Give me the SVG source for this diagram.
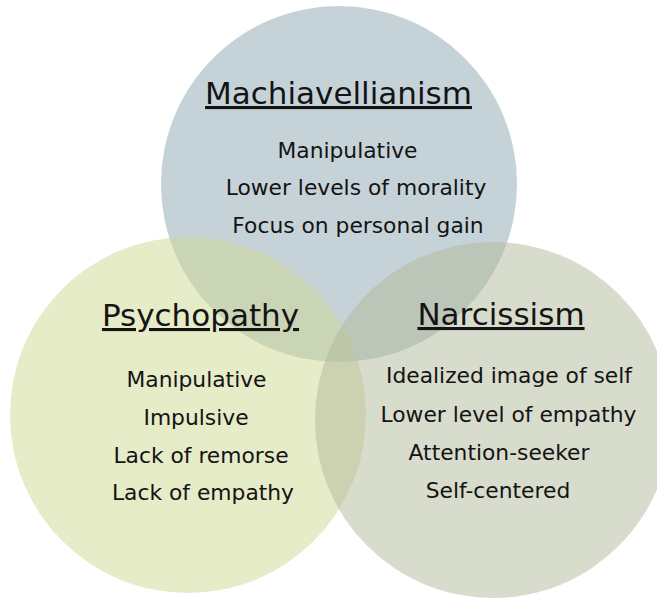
<svg xmlns="http://www.w3.org/2000/svg" width="657" height="599" viewBox="0 0 657 599">
<style>
.c{fill-opacity:0.5;stroke:none}
.t{font-family:"DejaVu Sans","Liberation Sans",sans-serif;fill:#141414;text-anchor:middle}
.h{font-size:31px;text-decoration:underline}
.b{font-size:21.8px}
</style>
<rect width="657" height="599" fill="#ffffff"/>
<g id="machiavellianism">
<circle class="c" cx="339" cy="184" r="178" fill="#8ba7b3"/>
</g>
<g id="psychopathy">
<circle class="c" cx="188" cy="415" r="178" fill="#cdd791"/>
</g>
<g id="narcissism">
<circle class="c" cx="493" cy="420" r="178" fill="#b1b999"/>
</g>
<g id="connectors"></g>
<g id="labels">
<text class="t h" x="338.5" y="104">Machiavellianism</text>
<text class="t b" x="347.5" y="158">Manipulative</text>
<text class="t b" x="356" y="195">Lower levels of morality</text>
<text class="t b" x="358" y="233">Focus on personal gain</text>
<text class="t h" x="200.5" y="326">Psychopathy</text>
<text class="t b" x="196.5" y="387">Manipulative</text>
<text class="t b" x="196" y="425">Impulsive</text>
<text class="t b" x="201" y="463">Lack of remorse</text>
<text class="t b" x="203" y="500">Lack of empathy</text>
<text class="t h" x="501" y="325">Narcissism</text>
<text class="t b" x="509" y="383">Idealized image of self</text>
<text class="t b" x="508.5" y="422">Lower level of empathy</text>
<text class="t b" x="499" y="460">Attention-seeker</text>
<text class="t b" x="498" y="498">Self-centered</text>
</g>
</svg>
